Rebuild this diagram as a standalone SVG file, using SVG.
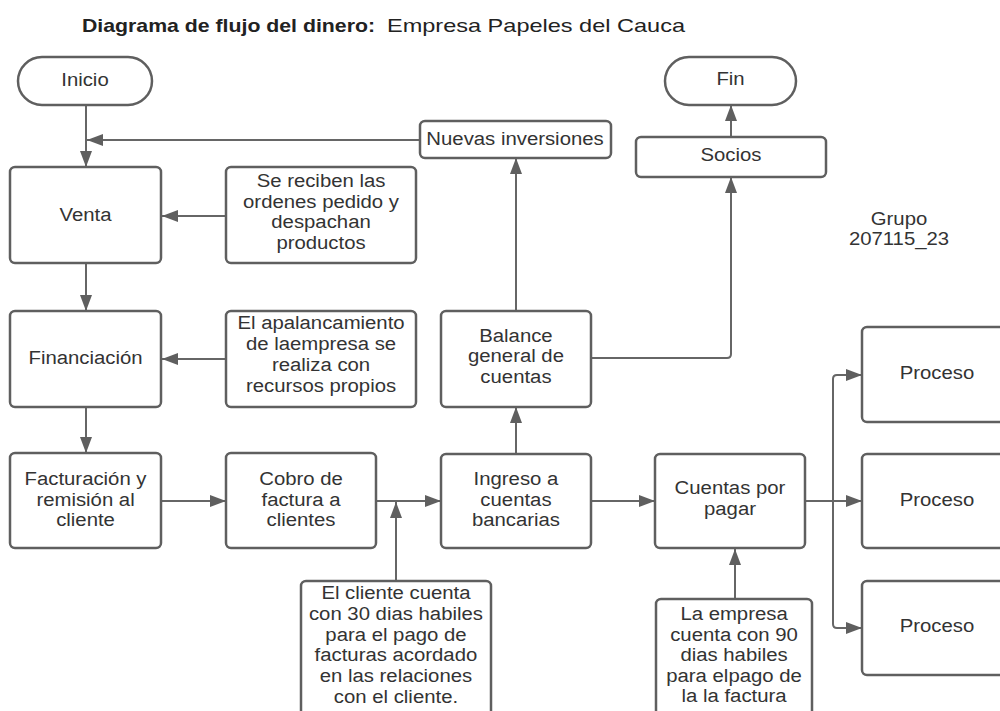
<svg xmlns="http://www.w3.org/2000/svg" width="1000" height="711" viewBox="0 0 1000 711">
<style>
.bg{fill:#ffffff}
.box{fill:#ffffff;stroke:#5f5f5f;stroke-width:2.5}
.con{fill:none;stroke:#666666;stroke-width:2}
.t{font-family:"Liberation Sans",Arial,sans-serif;font-size:18px;fill:#333333;text-anchor:middle;transform:scale(1.13,1)}
.title{font-family:"Liberation Sans",Arial,sans-serif;font-size:18.5px;fill:#222222}
</style>
<defs>
<marker id="ah" markerWidth="16" markerHeight="12" refX="16" refY="6" orient="auto" markerUnits="userSpaceOnUse">
<path d="M0,0 L16,6 L0,12 z" fill="#5f5f5f"/>
</marker>
</defs>
<rect class="bg" x="0" y="0" width="1000" height="711"/>

<g id="title">
<text class="title" y="31.5"><tspan x="82" font-weight="bold" textLength="293" lengthAdjust="spacingAndGlyphs">Diagrama de flujo del dinero:</tspan><tspan x="387" textLength="298" lengthAdjust="spacingAndGlyphs">Empresa Papeles del Cauca</tspan></text>
</g>

<g id="connectors">
<line class="con" x1="86" y1="105" x2="86" y2="167" marker-end="url(#ah)"/>
<line class="con" x1="420" y1="140" x2="87" y2="140" marker-end="url(#ah)"/>
<line class="con" x1="86" y1="263" x2="86" y2="311" marker-end="url(#ah)"/>
<line class="con" x1="86" y1="407" x2="86" y2="453" marker-end="url(#ah)"/>
<line class="con" x1="226" y1="216" x2="162" y2="216" marker-end="url(#ah)"/>
<line class="con" x1="226" y1="359" x2="162" y2="359" marker-end="url(#ah)"/>
<line class="con" x1="161" y1="501" x2="226" y2="501" marker-end="url(#ah)"/>
<line class="con" x1="376" y1="501" x2="441" y2="501" marker-end="url(#ah)"/>
<line class="con" x1="396" y1="581" x2="396" y2="502" marker-end="url(#ah)"/>
<line class="con" x1="591" y1="501" x2="655" y2="501" marker-end="url(#ah)"/>
<line class="con" x1="516" y1="454" x2="516" y2="407" marker-end="url(#ah)"/>
<line class="con" x1="516" y1="311" x2="516" y2="158" marker-end="url(#ah)"/>
<path class="con" d="M592,358 H727 Q731,358 731,354 V177" marker-end="url(#ah)"/>
<line class="con" x1="731" y1="136" x2="731" y2="105" marker-end="url(#ah)"/>
<line class="con" x1="735" y1="599" x2="735" y2="549" marker-end="url(#ah)"/>
<line class="con" x1="805" y1="501" x2="862" y2="501" marker-end="url(#ah)"/>
<line class="con" x1="862" y1="501" x2="880" y2="501" marker-end="url(#ah)"/>
<path class="con" d="M833,501 V379 Q833,375 837,375 H862" marker-end="url(#ah)"/>
<path class="con" d="M833,501 V624 Q833,628 837,628 H862" marker-end="url(#ah)"/>
</g>

<g id="inicio">
<rect class="box" x="18" y="57" width="134" height="48" rx="24"/>
<text class="t" x="75.2" y="86">Inicio</text>
</g>
<g id="fin">
<rect class="box" x="665" y="57" width="131" height="48" rx="24"/>
<text class="t" x="646.5" y="85.5">Fin</text>
</g>
<g id="nuevas-inversiones">
<rect class="box" x="420" y="121" width="191" height="37" rx="5"/>
<text class="t" x="455.8" y="145.5">Nuevas inversiones</text>
</g>
<g id="socios">
<rect class="box" x="636" y="137" width="190" height="40" rx="5"/>
<text class="t" x="646.9" y="161">Socios</text>
</g>
<g id="grupo">
<text class="t" x="795.6" y="225">Grupo</text>
<text class="t" x="795.6" y="245.5">207115_23</text>
</g>
<g id="venta">
<rect class="box" x="10" y="167" width="151" height="96" rx="5"/>
<text class="t" x="75.7" y="221">Venta</text>
</g>
<g id="nota-ordenes">
<rect class="box" x="226" y="167" width="190" height="96" rx="5"/>
<text class="t" x="284.1" y="187.5">Se reciben las</text>
<text class="t" x="284.1" y="208">ordenes pedido y</text>
<text class="t" x="284.1" y="228.5">despachan</text>
<text class="t" x="284.1" y="249">productos</text>
</g>
<g id="financiacion">
<rect class="box" x="10" y="311" width="151" height="96" rx="5"/>
<text class="t" x="75.7" y="364.5">Financiación</text>
</g>
<g id="nota-apalancamiento">
<rect class="box" x="226" y="311" width="190" height="96" rx="5"/>
<text class="t" x="284.1" y="329.5">El apalancamiento</text>
<text class="t" x="284.1" y="350.3">de laempresa se</text>
<text class="t" x="284.1" y="371">realiza con</text>
<text class="t" x="284.1" y="391.8">recursos propios</text>
</g>
<g id="balance">
<rect class="box" x="441" y="311" width="150" height="96" rx="5"/>
<text class="t" x="456.6" y="342">Balance</text>
<text class="t" x="456.6" y="362.5">general de</text>
<text class="t" x="456.6" y="383">cuentas</text>
</g>
<g id="facturacion">
<rect class="box" x="10" y="453" width="151" height="95" rx="5"/>
<text class="t" x="75.7" y="485">Facturación y</text>
<text class="t" x="75.7" y="505.7">remisión al</text>
<text class="t" x="75.7" y="526.4">cliente</text>
</g>
<g id="cobro">
<rect class="box" x="226" y="453" width="150" height="95" rx="5"/>
<text class="t" x="266.4" y="485">Cobro de</text>
<text class="t" x="266.4" y="505.7">factura a</text>
<text class="t" x="266.4" y="526.4">clientes</text>
</g>
<g id="ingreso">
<rect class="box" x="441" y="454" width="150" height="94" rx="5"/>
<text class="t" x="456.6" y="485">Ingreso a</text>
<text class="t" x="456.6" y="505.7">cuentas</text>
<text class="t" x="456.6" y="526.4">bancarias</text>
</g>
<g id="cuentas-por-pagar">
<rect class="box" x="655" y="454" width="150" height="94" rx="5"/>
<text class="t" x="646" y="494.5">Cuentas por</text>
<text class="t" x="646" y="515">pagar</text>
</g>
<g id="proceso-1">
<rect class="box" x="862" y="327" width="150" height="95" rx="5"/>
<text class="t" x="829.2" y="379">Proceso</text>
</g>
<g id="proceso-2">
<rect class="box" x="862" y="454" width="150" height="94" rx="5"/>
<text class="t" x="829.2" y="506">Proceso</text>
</g>
<g id="proceso-3">
<rect class="box" x="862" y="581" width="150" height="94" rx="5"/>
<text class="t" x="829.2" y="632">Proceso</text>
</g>
<g id="nota-cliente">
<rect class="box" x="301" y="581" width="190" height="140" rx="5"/>
<text class="t" x="350.4" y="599.3">El cliente cuenta</text>
<text class="t" x="350.4" y="620">con 30 dias habiles</text>
<text class="t" x="350.4" y="640.7">para el pago de</text>
<text class="t" x="350.4" y="661.4">facturas acordado</text>
<text class="t" x="350.4" y="682.1">en las relaciones</text>
<text class="t" x="350.4" y="702.8">con el cliente.</text>
</g>
<g id="nota-empresa">
<rect class="box" x="656" y="599" width="156" height="130" rx="5"/>
<text class="t" x="649.6" y="620.5">La empresa</text>
<text class="t" x="649.6" y="641">cuenta con 90</text>
<text class="t" x="649.6" y="661.5">dias habiles</text>
<text class="t" x="649.6" y="682">para elpago de</text>
<text class="t" x="649.6" y="702.5">la la factura</text>
</g>
</svg>
